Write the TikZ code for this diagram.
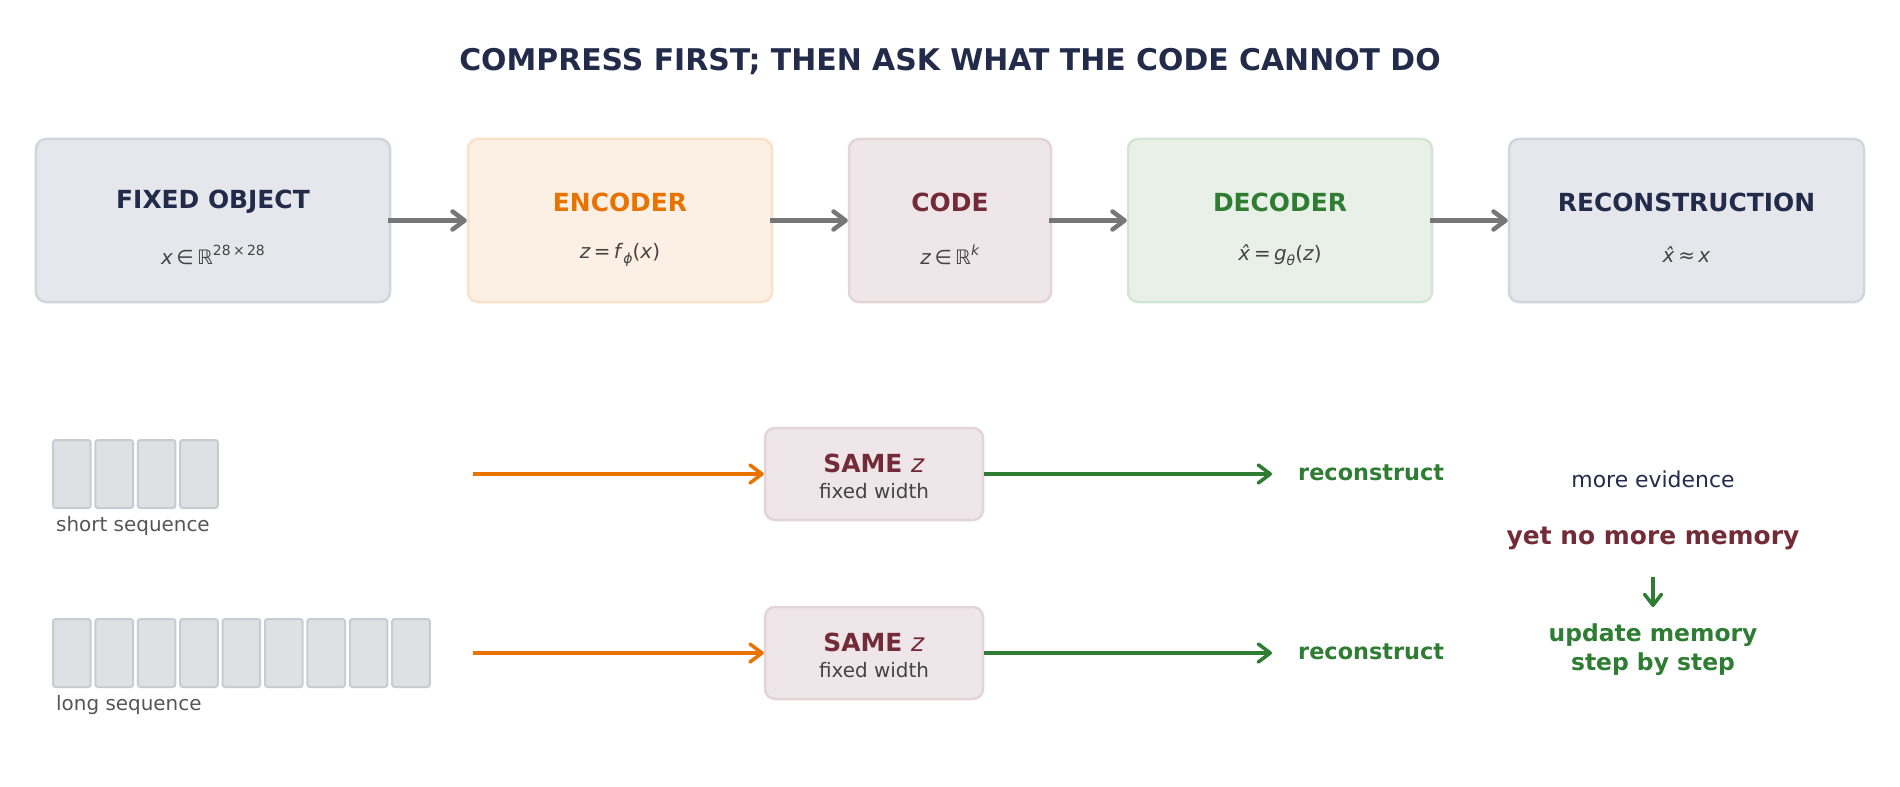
\documentclass[tikz,border=0pt]{standalone}
\usepackage{fontspec}
\setmainfont{DejaVu Sans}
\usetikzlibrary{arrows.meta}
\definecolor{navy}{HTML}{222B4A}
\definecolor{orng}{HTML}{E87300}
\definecolor{maroon}{HTML}{722B37}
\definecolor{grn}{HTML}{2E7D32}
\definecolor{arrgray}{HTML}{777777}
\definecolor{mathgray}{HTML}{444444}
\definecolor{lblgray}{HTML}{555555}
\definecolor{nfill}{HTML}{E5E7EC}\definecolor{nline}{HTML}{D3D5DC}
\definecolor{efill}{HTML}{FCEFE3}\definecolor{eline}{HTML}{FAE1CA}
\definecolor{cfill}{HTML}{EEE6E8}\definecolor{cline}{HTML}{E3D4D8}
\definecolor{dfill}{HTML}{E8F0E8}\definecolor{dline}{HTML}{D3E5D4}
\definecolor{sfill}{HTML}{DFE0E4}\definecolor{sline}{HTML}{C9CBD1}
\newcommand\fs[2]{\fontsize{#1}{#2}\selectfont}
\newcommand\subtx[1]{\raisebox{-0.4ex}{\fs{14}{14}#1}}
\newcommand\suptx[1]{\raisebox{0.85ex}{\fs{14}{14}#1}}
\begin{document}
\begin{tikzpicture}[x=1bp,y=-1bp,
  box/.style={draw, line width=2.5bp, rounded corners=10bp, inner sep=0pt, minimum height=163bp},
  ttl/.style={font=\fs{25}{30}\bfseries, inner sep=0pt},
  sub/.style={font=\fs{20}{24}, text=mathgray, inner sep=0pt},
  garrow/.style={draw=arrgray, line width=4.5bp, shorten <=-3bp, -{Straight Barb[length=12bp,width=18bp,round]}},
  oarrow/.style={draw=orng, line width=3.5bp, -{Straight Barb[length=12bp,width=18bp,round]}},
  grarrow/.style={draw=grn, line width=3.5bp, -{Straight Barb[length=12bp,width=18bp,round]}},
  seqbox/.style={draw=sline, fill=sfill, line width=2bp, rounded corners=2.5bp, minimum width=37.6bp, minimum height=68bp, inner sep=0pt},
  samebox/.style={draw=cline, fill=cfill, line width=2.5bp, rounded corners=10bp, minimum width=218bp, minimum height=92bp, inner sep=0pt},
  lbl/.style={font=\fs{20}{24}, text=lblgray, inner sep=0pt, anchor=west},
  rec/.style={font=\fs{22.5}{27}\bfseries, text=grn, inner sep=0pt, anchor=west}
]
\useasboundingbox (0,0) rectangle (1900,787);
\node[font=\fs{30}{36}\bfseries, text=navy, inner sep=0pt] (title) at (950,62) {COMPRESS FIRST; THEN ASK WHAT THE CODE CANNOT DO};

\node[box, draw=nline, fill=nfill, minimum width=354bp] (b1) at (213,220.5) {};
\node[box, draw=eline, fill=efill, minimum width=304bp] (b2) at (620,220.5) {};
\node[box, draw=cline, fill=cfill, minimum width=202bp] (b3) at (950,220.5) {};
\node[box, draw=dline, fill=dfill, minimum width=304bp] (b4) at (1280,220.5) {};
\node[box, draw=nline, fill=nfill, minimum width=355bp] (b5) at (1686.5,220.5) {};

\node[ttl, text=navy] (b1t) at (213,202) {FIXED OBJECT};
\node[ttl, text=orng] (b2t) at (620,202) {ENCODER};
\node[ttl, text=maroon] (b3t) at (950,202) {CODE};
\node[ttl, text=grn] (b4t) at (1280,202) {DECODER};
\node[ttl, text=navy] (b5t) at (1686.5,202) {RECONSTRUCTION};

\node[sub] (b1s) at (213,255) {\textit{x}\,∈\,ℝ\suptx{28\,×\,28}};
\node[sub] (b2s) at (620,255) {\textit{z}\,=\,\textit{f}\subtx{\textit{ϕ}}(\textit{x})};
\node[sub] (b3s) at (950,255) {\textit{z}\,∈\,ℝ\suptx{\textit{k}}};
\node[sub] (b4s) at (1280,255) {\textit{x̂}\,=\,\textit{g}\subtx{\textit{θ}}(\textit{z})};
\node[sub] (b5s) at (1686.5,255) {\textit{x̂}\,≈\,\textit{x}};

\draw[garrow] (b1.east) -- (b2.west);
\draw[garrow] (b2.east) -- (b3.west);
\draw[garrow] (b3.east) -- (b4.west);
\draw[garrow] (b4.east) -- (b5.west);

% sequences
\foreach \i in {0,...,3} \node[seqbox] (sa\i) at (71.8+\i*42.4,474) {};
\foreach \i in {0,...,8} \node[seqbox] (sb\i) at (71.8+\i*42.4,653) {};
\node[lbl] (shortlbl) at (56,526) {short sequence};
\node[lbl] (longlbl) at (56,705) {long sequence};

\node[samebox] (z1) at (874,474) {};
\node[samebox] (z2) at (874,653) {};
\node[ttl, text=maroon] (z1t) at (874,463) {SAME \textmd{\textit{z}}};
\node[sub] (z1s) at (874,491) {fixed width};
\node[ttl, text=maroon] (z2t) at (874,642) {SAME \textmd{\textit{z}}};
\node[sub] (z2s) at (874,670) {fixed width};

\coordinate (o1) at (473,474);
\coordinate (o2) at (473,653);
\draw[oarrow] (o1) -- (z1.west);
\draw[oarrow] (o2) -- (z2.west);

\coordinate (g1) at (1272,474);
\coordinate (g2) at (1272,653);
\draw[grarrow] (z1.east) -- (g1);
\draw[grarrow] (z2.east) -- (g2);
\node[rec] (r1) at (1298,473) {reconstruct};
\node[rec] (r2) at (1298,652) {reconstruct};

\node[font=\fs{22}{26}, text=navy, inner sep=0pt] (ev) at (1653,479) {more evidence};
\node[font=\fs{25}{30}\bfseries, text=maroon, inner sep=0pt] (mem) at (1653,538) {yet no more memory};
\node[font=\fs{23.5}{29}\bfseries, text=grn, inner sep=0pt, align=center] (upd) at (1653,650) {update memory\\step by step};
\coordinate (da1) at (1653,577);
\coordinate (da2) at (1653,607);
\draw[draw=grn, line width=3.5bp, -{Straight Barb[length=11bp,width=17bp,round]}] (da1) -- (da2);
\end{tikzpicture}
\end{document}
